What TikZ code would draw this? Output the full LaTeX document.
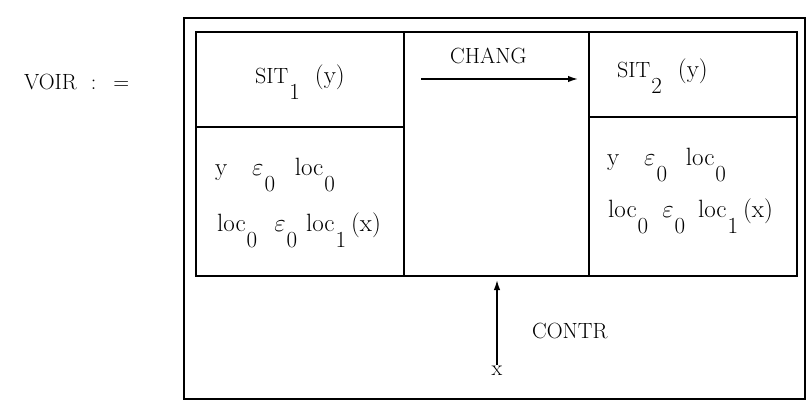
\documentclass[tikz,border=0pt]{standalone}
\usetikzlibrary{arrows.meta}
\newcommand{\dnsub}[1]{\kern1pt\raisebox{-16pt}{\fontsize{23}{23}\selectfont #1}}
\newcommand{\eps}{$\varepsilon$}
\newcommand{\capsz}{\fontsize{22}{26}\selectfont}
\begin{document}
\begin{tikzpicture}[x=1pt,y=-1pt,
  frame/.style={line width=2pt},
  txt/.style={anchor=base west,inner sep=0pt,font=\fontsize{25}{29}\selectfont},
  arr/.style={line width=1.5pt,-{Latex[length=10pt,width=6.5pt]}}]
\useasboundingbox (0,0) rectangle (810,405);
% outer frame
\draw[frame] (184,18) rectangle (805,399);
% inner frame and cells
\draw[frame] (196,32) rectangle (797,276);
\draw[frame] (404,32) -- (404,276);
\draw[frame] (589,32) -- (589,276);
\draw[frame] (196,127) -- (404,127);
\draw[frame] (589,117) -- (797,117);
% texts
\node[txt,font=\capsz] (voir) at (24,89) {VOIR\hspace{14pt}:\hspace{17pt}=};
\node[txt] (sit1) at (255,83) {{\capsz SIT}\dnsub{1}\hspace{15pt}(y)};
\node[txt,font=\capsz] (chang) at (450,63) {CHANG};
\node[txt] (sit2) at (617,77) {{\capsz SIT}\dnsub{2}\hspace{16pt}(y)};
\node[txt] (l1) at (215,175) {y\hspace{24.8pt}\eps\dnsub{0}\hspace{19.8pt}loc\dnsub{0}};
\node[txt] (l2) at (217,231) {loc\dnsub{0}\hspace{17pt}\eps\dnsub{0}\hspace{8.8pt}loc\dnsub{1}\hspace{5pt}(x)};
\node[txt] (r1) at (607,165) {y\hspace{24.8pt}\eps\dnsub{0}\hspace{18.8pt}loc\dnsub{0}};
\node[txt] (r2) at (608,217) {loc\dnsub{0}\hspace{14pt}\eps\dnsub{0}\hspace{12.8pt}loc\dnsub{1}\hspace{5pt}(x)};
\node[txt,font=\capsz] (contr) at (532,338) {CONTR};
\node[inner sep=1pt,font=\fontsize{22}{26}\selectfont] (xin) at (497,371) {x};
% arrows
\coordinate (ca) at (421,79);
\coordinate (cb) at (578,79);
\draw[arr] (ca) -- (cb);
\coordinate (bt) at (497,280);
\draw[arr] (xin.north) -- (xin.north |- bt);
\end{tikzpicture}
\end{document}
